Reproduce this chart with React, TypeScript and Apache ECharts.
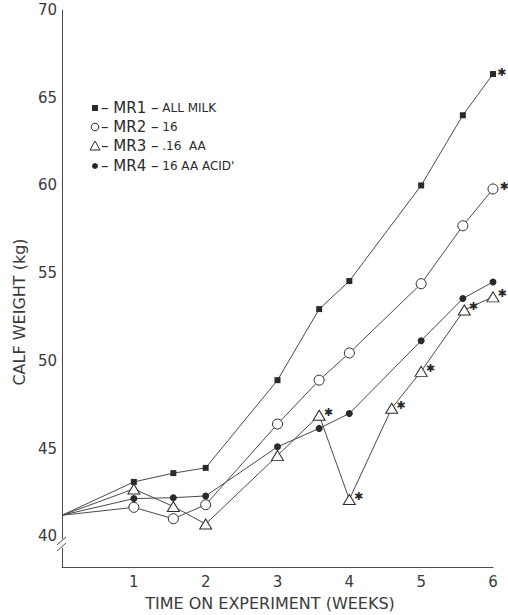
import React, { useEffect, useRef } from "react";
import * as echarts from "echarts";

// Weeks on experiment at which the calves were weighed
const weeks = [0, 1, 1.55, 2, 3, 3.58, 4, 5, 5.58, 6];
const weeksMR3 = [0, 1, 1.55, 2, 3, 3.58, 4, 4.59, 5, 5.6, 6];

// Calf weight (kg) per milk replacer
const mr1 = [41.2, 43.1, 43.6, 43.9, 48.9, 52.95, 54.55, 60.0, 64.0, 66.35];
const mr2 = [41.2, 41.65, 41.0, 41.8, 46.4, 48.9, 50.45, 54.4, 57.7, 59.8];
const mr3 = [41.2, 42.7, 41.7, 40.7, 44.6, 46.9, 42.1, 47.3, 49.4, 52.9, 53.65];
const mr4 = [41.2, 42.15, 42.2, 42.3, 45.1, 46.15, 47.0, 51.15, 53.55, 54.5];

// Points flagged with an asterisk
const starMR1 = [false, false, false, false, false, false, false, false, false, true];
const starMR2 = [false, false, false, false, false, false, false, false, false, true];
const starMR3 = [false, false, false, false, false, true, true, true, true, true, true];
const starMR4 = [false, false, false, false, false, false, false, false, false, false];

const seriesNames = ["MR1", "MR2", "MR3", "MR4"];
const legendTexts = ["ALL MILK", "16", ".16  AA", "16 AA ACID'"];
const legendDash = ["– ", "– ", "– ", "– "];
const legendSep = [" –", " –", " –", " –"];

const yTicks = [40, 45, 50, 55, 60, 65, 70];
const xTicks = [1, 2, 3, 4, 5, 6];

const INK = "#2a2a2a";
const LINE = "#4a4a4a";
const FONT = "DejaVu Sans";

// The common starting weight sits on the axis without a marker
function points(xs: number[], ys: number[], stars: boolean[]) {
  return xs.map((x, i) => ({
    value: [x, ys[i]],
    symbol: x === 0 ? "none" : undefined,
    label: { show: stars[i] },
  }));
}

function starLabel(offset: number[]) {
  return {
    show: false,
    position: "right" as const,
    distance: 1,
    offset,
    formatter: "✱",
    fontSize: 11,
    color: INK,
    fontFamily: FONT,
  };
}

export default function App() {
  const ref = useRef<HTMLDivElement>(null);

  useEffect(() => {
    if (!ref.current) return;
    const chart = echarts.init(ref.current, undefined, { renderer: "svg" });

    const common = {
      type: "line" as const,
      lineStyle: { color: LINE, width: 1 },
      label: starLabel([0, -2]),
      emphasis: { disabled: true },
      z: 2,
    };

    // Legend rows: marker shapes plus text, placed inside the plot area
    const legendX = 95;
    const legendY = [108, 127, 146, 166];
    const legendGraphics: any[] = [
      {
        type: "rect",
        shape: { x: legendX - 3, y: legendY[0] - 3, width: 6, height: 6 },
        style: { fill: INK },
      },
      {
        type: "circle",
        shape: { cx: legendX, cy: legendY[1], r: 3.8 },
        style: { fill: "#fff", stroke: INK, lineWidth: 1 },
      },
      {
        type: "polygon",
        shape: {
          points: [
            [legendX, legendY[2] - 5],
            [legendX - 5, legendY[2] + 4],
            [legendX + 5, legendY[2] + 4],
          ],
        },
        style: { fill: "#fff", stroke: INK, lineWidth: 1 },
      },
      {
        type: "circle",
        shape: { cx: legendX, cy: legendY[3], r: 3 },
        style: { fill: INK },
      },
    ];
    seriesNames.forEach((name, i) => {
      legendGraphics.push({
        type: "text",
        x: legendX + 6,
        y: legendY[i],
        style: {
          text: `{a|${legendDash[i]}${name}${legendSep[i]}}{b| ${legendTexts[i]}}`,
          verticalAlign: "middle",
          rich: {
            a: { fontSize: 15, fontFamily: FONT, fill: INK },
            b: { fontSize: 12, fontFamily: FONT, fill: INK },
          },
        },
      });
    });

    chart.setOption({
      animation: false,
      grid: { left: 62, right: 15, top: 10, bottom: 48 },
      xAxis: {
        type: "value",
        min: 0,
        max: 6,
        interval: 1,
        axisLine: { show: true, onZero: false, lineStyle: { color: LINE, width: 1 } },
        axisTick: { show: false },
        splitLine: { show: false },
        axisLabel: {
          margin: 7,
          fontSize: 15,
          fontFamily: FONT,
          color: "#3a3a3a",
          formatter: (v: number) => (xTicks.includes(v) ? String(v) : ""),
        },
      },
      yAxis: {
        type: "value",
        min: 38.25,
        max: 70,
        interval: 0.25,
        axisLine: { show: true, lineStyle: { color: LINE, width: 1 } },
        axisTick: { show: false },
        splitLine: { show: false },
        axisLabel: {
          margin: 5,
          fontSize: 15,
          fontFamily: FONT,
          color: "#3a3a3a",
          formatter: (v: number) =>
            yTicks.some((t) => Math.abs(t - v) < 1e-6) ? String(Math.round(v)) : "",
        },
      },
      series: [
        {
          ...common,
          name: "MR1",
          symbol: "rect",
          symbolSize: 6,
          itemStyle: { color: INK },
          data: points(weeks, mr1, starMR1),
        },
        {
          ...common,
          name: "MR2",
          symbol: "circle",
          symbolSize: 10,
          itemStyle: { color: "#fff", borderColor: INK, borderWidth: 1 },
          data: points(weeks, mr2, starMR2),
        },
        {
          ...common,
          name: "MR3",
          symbol: "triangle",
          symbolSize: [12, 10],
          label: starLabel([-3, -3]),
          itemStyle: { color: "#fff", borderColor: INK, borderWidth: 1 },
          data: points(weeksMR3, mr3, starMR3),
        },
        {
          ...common,
          name: "MR4",
          symbol: "circle",
          symbolSize: 7,
          itemStyle: { color: INK },
          data: points(weeks, mr4, starMR4),
        },
      ],
      graphic: [
        // break in the weight axis just below 40
        {
          type: "rect",
          shape: { x: 57, y: 539, width: 10, height: 9 },
          style: { fill: "#fff" },
          z: 10,
        },
        {
          type: "line",
          shape: { x1: 57, y1: 545, x2: 66, y2: 537 },
          style: { stroke: LINE, lineWidth: 1 },
          z: 11,
        },
        {
          type: "line",
          shape: { x1: 57, y1: 551, x2: 66, y2: 543 },
          style: { stroke: LINE, lineWidth: 1 },
          z: 11,
        },
        {
          type: "text",
          x: 270,
          y: 603,
          style: {
            text: "TIME ON EXPERIMENT (WEEKS)",
            fontSize: 16,
            fontFamily: FONT,
            fill: "#3a3a3a",
            align: "center",
            verticalAlign: "middle",
          },
        },
        {
          type: "text",
          x: 19,
          y: 312,
          rotation: Math.PI / 2,
          style: {
            text: "CALF WEIGHT (kg)",
            fontSize: 16,
            fontFamily: FONT,
            fill: "#3a3a3a",
            align: "center",
            verticalAlign: "middle",
          },
        },
        ...legendGraphics,
      ],
    });

    return () => chart.dispose();
  }, []);

  return (
    <div
      ref={ref}
      style={{ position: "fixed", left: 0, top: 0, width: 508, height: 615, background: "#fff" }}
    />
  );
}
